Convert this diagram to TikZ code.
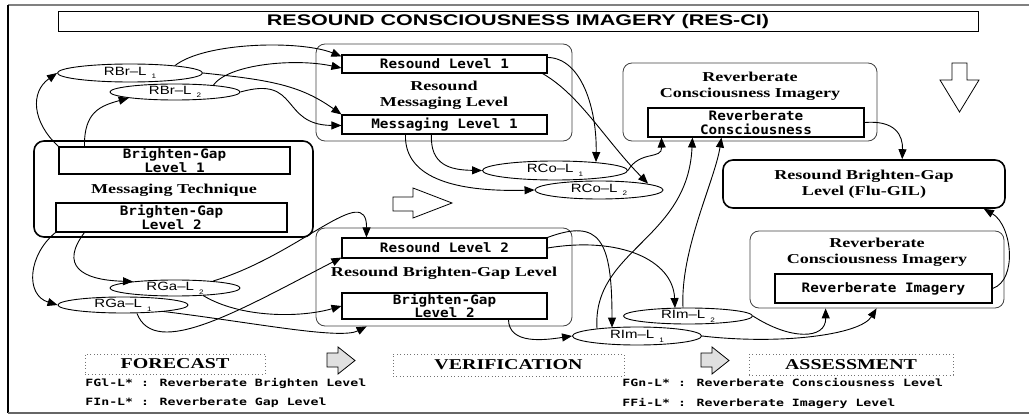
\documentclass[tikz,border=0pt]{standalone}
\usepackage{fontspec}
\usepackage{tikz}
\usetikzlibrary{calc,shapes.geometric,arrows.meta}

\newfontfamily\titlefont[FakeStretch=1.4]{Liberation Sans}
\newfontfamily\captionfont[FakeStretch=1.33]{Liberation Serif}
\newfontfamily\levelfont[FakeStretch=1.1]{DejaVu Sans Mono}
\newfontfamily\keyfont[FakeStretch=1.32]{DejaVu Sans Mono}
\newfontfamily\ovalfont[FakeStretch=1.25]{Liberation Sans}
\newcommand\ovaltext[2]{#1\hspace{5pt}\raisebox{-3.5pt}{\fontsize{6.5}{6.5}\selectfont #2}}

\begin{document}
\begin{tikzpicture}[x=1pt, y=-1pt, line width=0.9pt,
    level box/.style={draw, line width=1.1pt, inner sep=0pt, align=center,
      font=\levelfont\bfseries\fontsize{13}{13.5}\selectfont},
    group box/.style={draw=black!75, rounded corners=9pt, line width=0.8pt},
    main box/.style={draw, rounded corners=10pt, line width=1.6pt},
    oval/.style={draw, ellipse, inner sep=0pt, text height=6pt, text depth=1pt,
      font=\ovalfont\fontsize{12}{12}\selectfont},
    caption/.style={align=center, font=\captionfont\bfseries\fontsize{13.6}{16.5}\selectfont},
    phase/.style={draw=black!55, dash pattern=on 0.8pt off 2.6pt, line width=0.8pt, inner sep=0pt,
      font=\captionfont\bfseries\fontsize{15}{15}\selectfont},
    key/.style={anchor=west, inner sep=0pt, font=\keyfont\bfseries\fontsize{10}{10}\selectfont},
    link/.style={-{Triangle[length=10pt,width=8pt]}}]

    \useasboundingbox (0,0) rectangle (1029,417);

    \draw[black!50, line width=1.6pt] (1029,5) -- (8,5);
    \draw[line width=1.6pt] (8,5) -- (8,413);
    \draw[black!60, line width=1.6pt] (8,413) -- (1029,413);

    \node[draw, line width=1pt, minimum width=920pt, minimum height=20pt, inner sep=0pt,
      font=\titlefont\bfseries\fontsize{15.4}{15.4}\selectfont] (title) at (518,22)
      {RESOUND CONSCIOUSNESS IMAGERY (RES-CI)};

    \node[group box, minimum width=256pt, minimum height=97pt] (Resound Messaging) at (444,92.5) {};
    \node[level box, minimum width=205pt, minimum height=18pt] (Resound Level 1) at (444.5,64) {Resound Level 1};
    \node[caption] (Resound Messaging text) at (444,95.5) {Resound\\Messaging Level};
    \node[level box, minimum width=205pt, minimum height=19pt] (Messaging Level 1) at (444.5,124.5) {Messaging Level 1};

    \node[main box, minimum width=279pt, minimum height=96pt] (Technique) at (173.5,189) {};
    \node[level box, minimum width=231pt, minimum height=27pt] (Gap Level 1) at (174.5,160.5) {Brighten-Gap\\Level 1};
    \node[caption] (Technique text) at (174,190) {Messaging Technique};
    \node[level box, minimum width=231pt, minimum height=29pt] (Gap Level 2) at (171.5,217.5) {Brighten-Gap\\Level 2};

    \node[group box, minimum width=256pt, minimum height=98pt] (Resound Gap) at (444,277) {};
    \node[level box, minimum width=205pt, minimum height=20pt] (Resound Level 2) at (444.5,248) {Resound Level 2};
    \node[caption] (Resound Gap text) at (444,273) {Resound Brighten-Gap Level};
    \node[level box, minimum width=205pt, minimum height=26pt] (Verify Level 2) at (444.5,306) {Brighten-Gap\\Level 2};

    \node[group box, minimum width=254pt, minimum height=78pt] (Consciousness Group) at (750,102) {};
    \node[caption] (Consciousness Group text) at (750,86.5) {Reverberate\\Consciousness Imagery};
    \node[level box, minimum width=216pt, minimum height=29pt] (Reverberate Consciousness) at (756,122.5) {Reverberate\\Consciousness};

    \node[main box, caption, minimum width=282pt, minimum height=48pt] (Flu-GIL) at (864,184) {Resound Brighten-Gap\\Level (Flu-GIL)};

    \node[group box, minimum width=254pt, minimum height=77pt] (Imagery Group) at (877,269.5) {};
    \node[caption] (Imagery Group text) at (877,252.5) {Reverberate\\Consciousness Imagery};
    \node[level box, minimum width=217pt, minimum height=29pt] (Reverberate Imagery) at (883.5,288.5) {Reverberate Imagery};

    \node[oval, minimum width=145pt, minimum height=18pt] (RBr1) at (130,73)    {\ovaltext{RBr–L}{1}};
    \node[oval, minimum width=130pt, minimum height=16pt] (RBr2) at (175,92)    {\ovaltext{RBr–L}{2}};
    \node[oval, minimum width=145pt, minimum height=19pt] (RCo1) at (555,170.5) {\ovaltext{RCo–L}{1}};
    \node[oval, minimum width=128pt, minimum height=18pt] (RCo2) at (599,190)   {\ovaltext{RCo–L}{2}};
    \node[oval, minimum width=130pt, minimum height=16pt] (RGa2) at (175,288)   {\ovaltext{RGa–L}{2}};
    \node[oval, minimum width=130pt, minimum height=16pt] (RGa1) at (123,305)   {\ovaltext{RGa–L}{1}};
    \node[oval, minimum width=129pt, minimum height=16pt] (RIm2) at (688,316)   {\ovaltext{RIm–L}{2}};
    \node[oval, minimum width=129pt, minimum height=18pt] (RIm1) at (637,336)   {\ovaltext{RIm–L}{1}};

    \node[phase, minimum width=180pt, minimum height=20pt] (Forecast) at (175,364) {FORECAST};
    \node[phase, minimum width=231pt, minimum height=22pt] (Verification) at (508.5,365) {VERIFICATION};
    \node[phase, minimum width=204pt, minimum height=21pt] (Assessment) at (851,364.5) {ASSESSMENT};

    \node[key] (key FGl) at (85,383)  {FGl-L* : Reverberate Brighten Level};
    \node[key] (key FIn) at (85,403)  {FIn-L* : Reverberate Gap Level};
    \node[key] (key FGn) at (622,383) {FGn-L* : Reverberate Consciousness Level};
    \node[key] (key FFi) at (622,403) {FFi-L* : Reverberate Imagery Level};

    \draw[line width=0.8pt, fill=white] (393,197) -- (413,197) -- (413,188) -- (452,203)
      -- (413,218) -- (413,211) -- (393,211) -- cycle;
    \draw[line width=0.8pt, fill=white] (952,63) -- (967,63) -- (967,80) -- (979,80)
      -- (959.5,112) -- (940,80) -- (952,80) -- cycle;
    \foreach \dx in {0,374}
    \draw[line width=0.8pt, fill=black!12, shift={(\dx,0)}] (327,353) -- (338,353) -- (338,347)
      -- (355,360.5) -- (338,374) -- (338,367) -- (327,367) -- cycle;

    \draw[link] (Gap Level 1.north west) .. controls (32,122) and (30,92) .. (RBr1.west);
    \draw[link] ($(Gap Level 1.north west)+(26,0)$) .. controls (84,112) and (100,106) .. (RBr2.south west);
    \draw[link] ($(RBr1.north)+(45,2)$) .. controls (205,42) and (300,40) .. ($(Resound Level 1.north west)+(0,2)$);
    \draw[link] ($(RBr2.north)+(38,2)$) .. controls (228,64) and (295,58) .. ($(Resound Level 1.west)+(0,4)$);
    \draw[link] (RBr1.east) .. controls (270,80) and (300,85) .. (Messaging Level 1.north west);
    \draw[link] (RBr2.east) .. controls (300,75) and (280,125) .. ($(Messaging Level 1.west)+(0,1)$);

    \draw[link] ($(Messaging Level 1.south west)+(64,0)$) .. controls (404,180) and (460,192) .. (RCo2.west);
    \draw[link] ($(Messaging Level 1.south west)+(90,0)$) .. controls (430,165) and (450,170) .. (RCo1.west);
    \draw[link] ($(Resound Level 1.north east)+(0,3)$) .. controls (582,58) and (597,110) .. ($(RCo1.north)+(41,1.5)$);
    \draw[link] ($(Resound Level 1.south east)+(-5,0)$) .. controls (580,95) and (605,140) .. ($(RCo2.north)+(49,3)$);
    \draw[link] (RCo1.east) .. controls (640,150) and (662,160) .. ($(Reverberate Consciousness.south west)+(14,0)$);
    \draw[link] (Reverberate Consciousness.east) .. controls (895,120) and (903,135) .. ($(Flu-GIL.north west)+(180,0)$);

    \draw[link] ($(RIm1.north)+(-40,2)$) .. controls (592,250) and (688,240) .. ($(Reverberate Consciousness.south west)+(45,0)$);
    \draw[link] ($(RIm2.north)+(-5,0)$) .. controls (680,250) and (715,180) .. ($(Reverberate Consciousness.south west)+(74,0)$);
    \draw[link] (Resound Level 2.east) .. controls (620,236) and (673,260) .. ($(RIm2.north)+(-13,0.5)$);
    \draw[link] (Resound Level 2.north east) .. controls (600,218) and (612,240) .. ($(RIm1.north)+(-25,1)$);
    \draw[link] ($(Verify Level 2.south west)+(167,0)$) .. controls (509,345) and (545,340) .. (RIm1.west);
    \draw[link] (RIm2.east) .. controls (790,340) and (826,340) .. ($(Imagery Group.south west)+(76,0)$);
    \draw[link] (RIm1.east) .. controls (780,345) and (860,335) .. ($(Imagery Group.south west)+(127,0)$);
    \draw[link] (Reverberate Imagery.east) .. controls (1018,280) and (1012,225) .. ($(Flu-GIL.south east)+(-22,0)$);

    \draw[link] (Gap Level 2.south west) .. controls (28,255) and (25,295) .. (RGa1.west);
    \draw[link] ($(Gap Level 2.south west)+(29,0)$) .. controls (60,265) and (80,280) .. ($(RGa2.north)+(-42,2)$);
    \draw[link] ($(RGa2.north)+(38,1.5)$) .. controls (300,255) and (367,180) .. ($(Resound Level 2.north west)+(25,0)$);
    \draw[link] ($(RGa2.south)+(28,-1)$) .. controls (240,318) and (300,318) .. (Verify Level 2.west);
    \draw[link] ($(RGa1.south)+(14,0)$) .. controls (155,360) and (240,310) .. ($(Resound Level 2.south west)+(0,-1)$);
    \draw[link] ($(RGa1.south)+(40,-2)$) .. controls (250,322) and (340,340) .. ($(Resound Gap.south west)+(51,0)$);
  \end{tikzpicture}
\end{document}
